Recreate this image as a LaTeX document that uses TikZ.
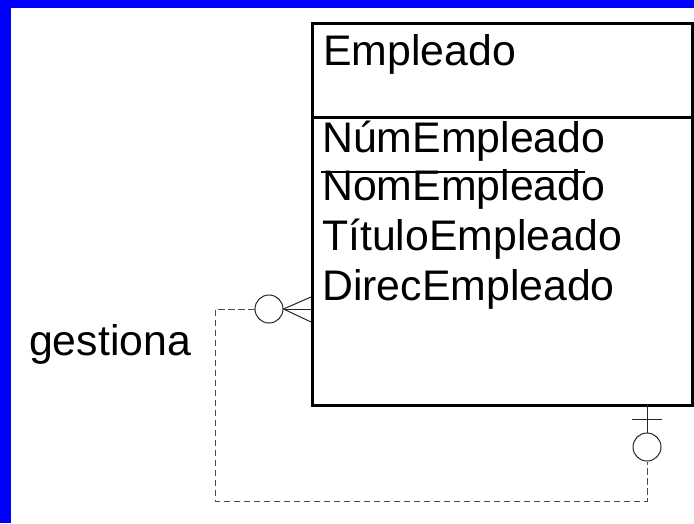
\documentclass[tikz,border=0pt]{standalone}
\usepackage{fontspec}
\setmainfont{Liberation Sans}
\begin{document}
\begin{tikzpicture}[x=1pt,y=-1pt,
  entbox/.style={draw=black,line width=3pt,inner sep=0pt,anchor=north west},
  lbl/.style={inner sep=0pt,anchor=base west,font=\fontsize{42.8}{50}\selectfont},
  ring/.style={circle,draw=black!85,line width=1pt,inner sep=0pt,minimum size=28pt},
  rel/.style={draw=black!70,line width=1pt,dash pattern=on 6.5pt off 3.5pt},
  foot/.style={draw=black!85,line width=1pt}]
\useasboundingbox (0,0) rectangle (694,523);
\fill[white] (0,0) rectangle (694,523);
\fill[blue] (0,0) rectangle (11,523);
\fill[blue] (0,0) rectangle (694,8);
% entity
\node[entbox,minimum width=380pt,minimum height=94pt] (head) at (311,22) {};
\node[entbox,minimum width=380pt,minimum height=288pt] (body) at (311,116) {};
\node[lbl] (name) at (323,65) {Empleado};
\node[lbl] (a1) at (322,152) {NúmEmpleado};
\node[lbl] (a2) at (322,200) {NomEmpleado};
\node[lbl] (a3) at (322,250) {TítuloEmpleado};
\node[lbl] (a4) at (322,300) {DirecEmpleado};
\draw[line width=2.5pt] (321,172) -- (585,172);
\node[lbl] (gest) at (29,355) {gestiona};
% relationship
\node[ring] (c1) at (269,309) {};
\node[ring] (c2) at (647,447) {};
\coordinate (f1) at (311,297);
\coordinate (f2) at (311,309);
\coordinate (f3) at (311,322);
\draw[foot] (f1) -- (c1.east) -- (f3);
\draw[foot] (c1.east) -- (f2);
\coordinate (b1) at (647,404);
\draw[foot] (b1) -- (c2.north);
\coordinate (t1) at (632,419);
\coordinate (t2) at (662,419);
\draw[foot] (t1) -- (t2);
\coordinate (k1) at (215,309);
\coordinate (k2) at (215,501);
\coordinate (k3) at (647,501);
\draw[rel] (c1.west) -- (k1) -- (k2) -- (k3) -- (c2.south);
\end{tikzpicture}
\end{document}
